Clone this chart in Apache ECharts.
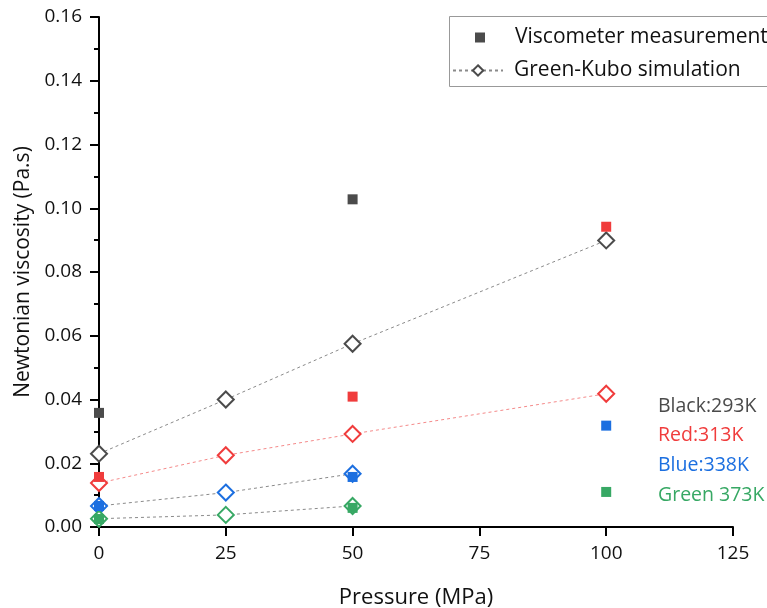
<!DOCTYPE html>
<html>
<head>
<meta charset="utf-8">
<script src="https://cdn.jsdelivr.net/npm/echarts@6/dist/echarts.min.js"></script>
<style>html,body{margin:0;padding:0;background:#fff}#c{width:767px;height:608px}</style>
</head>
<body>
<div id="c"></div>
<script>
// ---- data ----
const xTicks = [0, 25, 50, 75, 100, 125];
const yTicks = [0.00, 0.02, 0.04, 0.06, 0.08, 0.10, 0.12, 0.14, 0.16];
const measPressure = [0, 50, 100];
const simPressure = [0, 25, 50, 100];
const measBlack = [0.0358, 0.1028, null];
const measRed   = [0.0157, 0.0409, 0.0942];
const measBlue  = [0.0066, 0.0157, 0.0318];
const measGreen = [0.0025, 0.0060, 0.0110];
const simBlack = [0.0230, 0.0400, 0.0575, 0.0899];
const simRed   = [0.0138, 0.0225, 0.0292, 0.0418];
const simBlue  = [0.0066, 0.0108, 0.0167, null];
const simGreen = [0.0026, 0.0038, 0.0066, null];
const tempLabels = ['Black:293K', 'Red:313K', 'Blue:338K', 'Green 373K'];

const C = { black: '#4b4b4b', red: '#f03c3c', blue: '#1c6fe0', green: '#37a864' };
const FONT = '"Open Sans", "Noto Sans", sans-serif';

function pairs(xs, ys) {
  const out = [];
  xs.forEach((x, i) => { if (ys[i] !== null && ys[i] !== undefined) out.push([x, ys[i]]); });
  return out;
}
function meas(name, ys, color) {
  return { name, type: 'scatter', symbol: 'rect', symbolSize: 10, z: 5,
    itemStyle: { color, opacity: 1 }, data: pairs(measPressure, ys) };
}
function sim(name, ys, color, lineColor) {
  return { name, type: 'line', symbol: 'emptyDiamond', symbolSize: 16, showSymbol: true, z: 3,
    itemStyle: { color, borderColor: color, borderWidth: 2 },
    lineStyle: { color: lineColor, width: 1, type: [3, 3] },
    data: pairs(simPressure, ys) };
}

const chart = echarts.init(document.getElementById('c'), null, { renderer: 'canvas' });
chart.setOption({
  backgroundColor: '#fff',
  animation: false,
  textStyle: { fontFamily: FONT },
  grid: { left: 99, right: 34, top: 17, bottom: 81, containLabel: false, outerBoundsMode: 'none' },
  xAxis: {
    type: 'value', min: 0, max: 125, interval: 25,
    name: 'Pressure (MPa)', nameLocation: 'middle', nameGap: 60,
    nameTextStyle: { fontSize: 22, color: '#111', fontFamily: FONT },
    axisLine: { show: true, onZero: false, lineStyle: { color: '#000', width: 2 } },
    axisTick: { show: true, length: 9, lineStyle: { color: '#000', width: 2 } },
    axisLabel: { fontSize: 19, color: '#111', margin: 17, fontFamily: FONT,
      formatter: v => xTicks.includes(v) ? String(v) : '' },
    splitLine: { show: false }
  },
  yAxis: {
    type: 'value', min: 0, max: 0.16, interval: 0.02,
    name: 'Newtonian viscosity (Pa.s)', nameLocation: 'middle', nameGap: 65,
    nameTextStyle: { fontSize: 21, color: '#111', fontFamily: FONT },
    axisLine: { show: true, onZero: false, lineStyle: { color: '#000', width: 2 } },
    axisTick: { show: true, length: 9, lineStyle: { color: '#000', width: 2 } },
    minorTick: { show: true, splitNumber: 2, length: 5, lineStyle: { color: '#000', width: 2 } },
    axisLabel: { fontSize: 19, color: '#111', margin: 17, fontFamily: FONT,
      formatter: v => {
        const t = yTicks.find(y => Math.abs(y - v) < 1e-9);
        return t === undefined ? '' : t.toFixed(2);
      } },
    splitLine: { show: false }
  },
  legend: [
    { data: ['Viscometer measurement'], left: 475, top: 27, orient: 'vertical',
      itemWidth: 10, itemHeight: 10, padding: 0,
      textStyle: { fontSize: 21, color: '#111', fontFamily: FONT, padding: [0, 0, 0, 25] } },
    { data: ['Green-Kubo simulation'], left: 452, top: 60, orient: 'vertical',
      itemWidth: 50, itemHeight: 13, padding: 0,
      textStyle: { fontSize: 21, color: '#111', fontFamily: FONT, padding: [0, 0, 0, 6] } }
  ],
  graphic: [
    { type: 'rect', left: 447, top: 14, shape: { width: 340, height: 70 },
      style: { fill: 'none', stroke: '#999', lineWidth: 1 }, z: 0, silent: true },
    { type: 'text', left: 658, top: 396, style: { text: tempLabels[0], fill: C.black, font: '19.5px ' + FONT } },
    { type: 'text', left: 658, top: 425, style: { text: tempLabels[1], fill: C.red, font: '19.5px ' + FONT } },
    { type: 'text', left: 658, top: 455, style: { text: tempLabels[2], fill: C.blue, font: '19.5px ' + FONT } },
    { type: 'text', left: 658, top: 485, style: { text: tempLabels[3], fill: C.green, font: '19.5px ' + FONT } }
  ],
  series: [
    sim('Green-Kubo simulation', simBlack, C.black, '#8a8a8a'),
    sim('Sim 313K', simRed, C.red, '#f58a8a'),
    sim('Sim 338K', simBlue, C.blue, '#8a8a8a'),
    sim('Sim 373K', simGreen, C.green, '#8a8a8a'),
    meas('Viscometer measurement', measBlack, C.black),
    meas('Meas 313K', measRed, C.red),
    meas('Meas 338K', measBlue, C.blue),
    meas('Meas 373K', measGreen, C.green)
  ]
});
</script>
</body>
</html>
